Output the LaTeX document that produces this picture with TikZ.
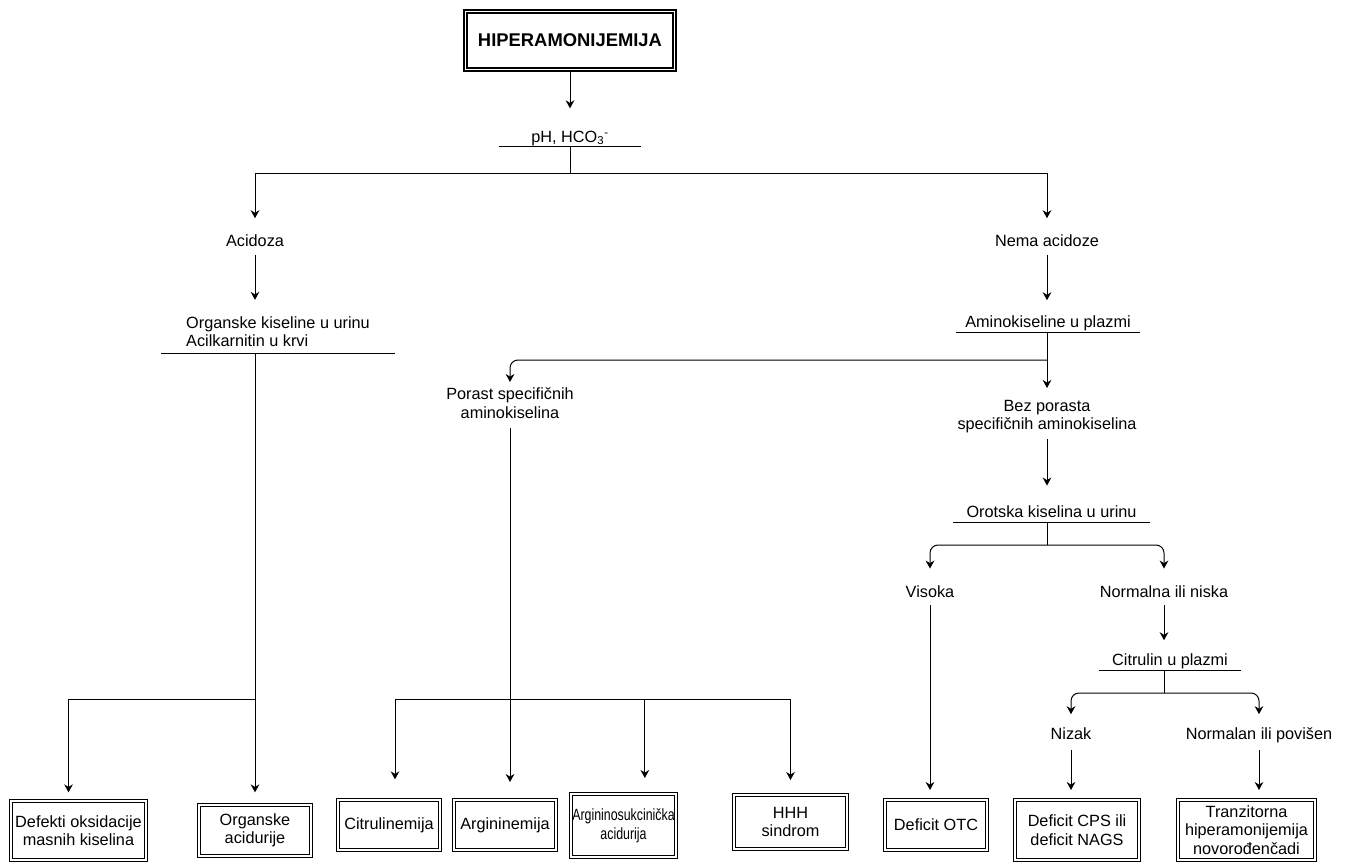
\documentclass[tikz,border=0pt]{standalone}
\usepackage{fontspec}
\setmainfont{Liberation Sans}
\newfontfamily\uskiFont[FakeStretch=0.76]{Liberation Sans}
\usepackage{tikz}
\usetikzlibrary{arrows.meta, calc}
\tikzset{>={Stealth[length=6pt,width=6.5pt]}}
\tikzset{
  glavni/.style={draw, double, line width=1.7pt, double distance=0.4pt, outer sep=1.9pt,
    inner sep=2pt, minimum width=156.5pt, minimum height=43.5pt,
    font=\bfseries\fontsize{13.8}{16}\selectfont},
  oznaka/.style={align=center, inner sep=0pt, outer sep=0pt},
  kriterij/.style={align=center, inner xsep=0pt, inner ysep=0pt, outer sep=0pt,
    minimum width=#1, anchor=south,
    append after command={(\tikzlastnode.south west) edge[-] (\tikzlastnode.south east)}},
  okvir/.style 2 args={draw, double, double distance=1.5pt, line width=0.75pt,
    outer sep=1.5pt, inner sep=1pt, align=center, minimum width=#1, minimum height=#2}
}

\begin{document}
\begin{tikzpicture}[x=0.75pt, y=-0.75pt, line width=0.75pt,
    every node/.style={font=\fontsize{12.2}{13.9}\selectfont}]
  \useasboundingbox (0,0) rectangle (1349,863);

  % pojmovi
  \node[glavni] (hiper) at (570,40.5) {HIPERAMONIJEMIJA};
  \node[kriterij=106pt, text depth=3.5pt] (ph) at (570,147) {pH, HCO\textsubscript{3}\textsuperscript{-}};
  \node[oznaka, anchor=base] (acidoza) at (255,246) {Acidoza};
  \node[oznaka, anchor=base] (nema) at (1047,246) {Nema acidoze};
  \node[kriterij=175.5pt, align=left, inner ysep=4.5pt] (organske) at (278,353) {Organske kiseline u urinu\\Acilkarnitin u krvi};
  \node[kriterij=138pt, text depth=3.5pt] (amino) at (1048,332) {Aminokiseline u plazmi};
  \node[oznaka, anchor=north] (porast) at (510,388) {Porast specifičnih\\aminokiselina};
  \node[oznaka, anchor=north] (bez) at (1047,400) {Bez porasta\\specifičnih aminokiselina};
  \node[kriterij=148pt, text depth=3.5pt] (orotska) at (1051.5,522) {Orotska kiselina u urinu};
  \node[oznaka, anchor=base] (visoka) at (930,597) {Visoka};
  \node[oznaka, anchor=base] (normalna) at (1164,597) {Normalna ili niska};
  \node[kriterij=106.5pt, text depth=3.5pt] (citrulin) at (1170,670) {Citrulin u plazmi};
  \node[oznaka, anchor=base] (nizak) at (1071,739) {Nizak};
  \node[oznaka, anchor=base] (povisen) at (1259,739) {Normalan ili povišen};

  % dijagnoze
  \node[okvir={101.25pt}{44.25pt}] (defekti) at (78.5,830.5) {Defekti oksidacije\\masnih kiselina};
  \node[okvir={84pt}{38.25pt}] (orgAcid) at (255,830.5) {Organske\\acidurije};
  \node[okvir={76.5pt}{37.5pt}] (citrulinemija) at (389,825) {Citrulinemija};
  \node[okvir={76.5pt}{37.5pt}] (argininemija) at (505,825) {Argininemija};
  \node[okvir={78.75pt}{47.25pt}, font=\uskiFont\fontsize{12.2}{13.9}\selectfont] (asa) at (623.5,825.5) {Argininosukcinička\\acidurija};
  \node[okvir={84.75pt}{40.5pt}] (hhh) at (790.5,822) {HHH\\sindrom};
  \node[okvir={76.5pt}{37.5pt}] (otc) at (936,825) {Deficit OTC};
  \node[okvir={93pt}{45pt}] (cps) at (1077,830) {Deficit CPS ili\\deficit NAGS};
  \node[okvir={102.75pt}{45pt}] (tranz) at (1246.5,830) {Tranzitorna\\hiperamonijemija\\novorođenčadi};

  % veze
  \draw[->, shorten >=17pt] (hiper) -- (ph);
  \draw[->, shorten >=12pt] (ph.south) -- ++(0,27) -| (acidoza);
  \draw[->, shorten >=12pt] (ph.south) -- ++(0,27) -| (nema);
  \draw[->, shorten <=6.5pt, shorten >=8pt] (acidoza) -- (acidoza |- organske.north);
  \draw[->, shorten <=6.5pt, shorten >=11.5pt] (nema) -- (nema |- amino.north);
  \draw[->, shorten >=9pt] (amino.south -| bez) -- (bez);
  \draw[->, rounded corners=6pt, shorten >=4.5pt] (amino.south -| bez) ++(0,28) -| (porast);
  \draw[->, shorten <=4.5pt, shorten >=15pt] (bez) -- (bez |- orotska.north);
  \draw (orotska.south -| bez) -- ++(0,23) coordinate (o1);
  \draw[->, rounded corners=6pt, shorten >=12.5pt] (o1) -| (visoka);
  \draw[->, rounded corners=6pt, shorten >=12.5pt] (o1) -| (normalna);
  \draw[->, shorten <=6pt, shorten >=6pt] (visoka) -- (visoka |- otc.north);
  \draw[->, shorten <=6pt, shorten >=10pt] (normalna) -- (normalna |- citrulin.north);
  \draw (citrulin.south -| normalna) -- ++(0,23) coordinate (c1);
  \draw[->, rounded corners=6pt, shorten >=9.75pt] (c1) -| (nizak);
  \draw[->, rounded corners=6pt, shorten >=9.75pt] (c1) -| (povisen);
  \draw[->, shorten <=8pt, shorten >=6pt] (nizak) -- (nizak |- cps.north);
  \draw[->, shorten <=6pt, shorten >=6pt] (povisen) -- (povisen |- tranz.north);

  % lijeva grana
  \draw[->, shorten >=8pt] (organske.south -| acidoza) -- (orgAcid);
  \coordinate (o2) at ($(organske.south -| acidoza)+(0,346)$);
  \draw[->, shorten >=5pt] (o2) -| ([xshift=-7.5pt]defekti.north);

  % srednja grana
  \draw[->, shorten <=7pt, shorten >=12pt] (porast) -- (porast |- argininemija.north);
  \draw[->, shorten >=14pt] (porast |- o2) -| ([xshift=4.5pt]citrulinemija.north);
  \draw[->, shorten >=10.5pt] (porast |- o2) -| ([xshift=16pt]asa.north);
  \draw[->, shorten >=9.75pt] (porast |- o2) -| (hhh);
\end{tikzpicture}
\end{document}
